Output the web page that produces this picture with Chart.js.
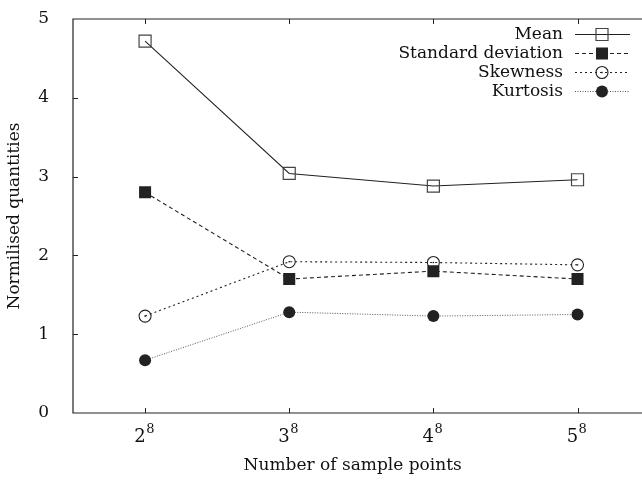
<!DOCTYPE html>
<html>
<head>
<meta charset="utf-8">
<script src="https://cdn.jsdelivr.net/npm/chart.js@4.4.1/dist/chart.umd.min.js"></script>
<style>
  html, body { margin: 0; padding: 0; background: #fff; overflow: hidden; }
</style>
</head>
<body>
<canvas id="c" width="642" height="482"></canvas>
<script>
// datos
const categories = ['2^8', '3^8', '4^8', '5^8'];
const meanValues = [4.72, 3.04, 2.88, 2.96];
const stdValues = [2.80, 1.70, 1.80, 1.70];
const skewValues = [1.23, 1.92, 1.91, 1.88];
const kurtValues = [0.67, 1.28, 1.23, 1.25];
const yTicks = [0, 1, 2, 3, 4, 5];

const FONT = '"DejaVu Serif", "Liberation Serif", serif';
const INK = '#222';

const toPoints = (vals) => vals.map((v, i) => ({ x: i, y: v }));

const datasets = [
    { label: 'Mean', data: toPoints(meanValues), borderColor: INK, borderWidth: 1.1, borderDash: [],
      pointStyle: 'rect', pointRadius: 8.5, pointBackgroundColor: 'rgba(0,0,0,0)', pointBorderColor: '#444', pointBorderWidth: 1.2 },
    { label: 'Standard deviation', data: toPoints(stdValues), borderColor: INK, borderWidth: 1.1, borderDash: [4, 3],
      pointStyle: 'rect', pointRadius: 8.5, pointBackgroundColor: INK, pointBorderColor: INK, pointBorderWidth: 0 },
    { label: 'Skewness', data: toPoints(skewValues), borderColor: INK, borderWidth: 1.1, borderDash: [2, 3],
      pointStyle: 'circle', pointRadius: 6, pointBackgroundColor: 'rgba(0,0,0,0)', pointBorderColor: INK, pointBorderWidth: 1.1, centerDot: true },
    { label: 'Kurtosis', data: toPoints(kurtValues), borderColor: '#555', borderWidth: 1, borderDash: [1, 1.5],
      pointStyle: 'circle', pointRadius: 6, pointBackgroundColor: INK, pointBorderColor: INK, pointBorderWidth: 0 },
];

// marco estilo gnuplot con marcas hacia dentro, etiquetas con exponente y leyenda a la derecha
const framePlugin = {
    id: 'frame',
    beforeDatasetsDraw(chart) {
        const { ctx, chartArea: a, scales } = chart;
        ctx.save();
        ctx.strokeStyle = INK;
        ctx.lineWidth = 1.2;
        ctx.beginPath();
        ctx.moveTo(chart.width, a.top);
        ctx.lineTo(a.left, a.top);
        ctx.lineTo(a.left, a.bottom);
        ctx.lineTo(chart.width, a.bottom);
        ctx.stroke();
        ctx.lineWidth = 1;
        ctx.beginPath();
        categories.forEach((c, i) => {
            const x = Math.round(scales.x.getPixelForValue(i)) + 0.5;
            ctx.moveTo(x, a.bottom); ctx.lineTo(x, a.bottom - 5);
            ctx.moveTo(x, a.top); ctx.lineTo(x, a.top + 5);
        });
        yTicks.slice(1, -1).forEach(v => {
            const y = Math.round(scales.y.getPixelForValue(v)) + 0.5;
            ctx.moveTo(a.left, y); ctx.lineTo(a.left + 5, y);
        });
        ctx.stroke();

        // etiquetas del eje x: base y exponente
        ctx.fillStyle = '#111';
        ctx.textBaseline = 'alphabetic';
        ctx.textAlign = 'left';
        categories.forEach((c, i) => {
            const [base, exp] = c.split('^');
            const x = scales.x.getPixelForValue(i);
            ctx.font = '18px ' + FONT;
            const wb = ctx.measureText(base).width;
            ctx.font = '13px ' + FONT;
            const we = ctx.measureText(exp).width;
            const x0 = x - (wb + we) / 2 - 1;
            ctx.font = '18px ' + FONT;
            ctx.fillText(base, x0, a.bottom + 29);
            ctx.font = '13px ' + FONT;
            ctx.fillText(exp, x0 + wb + 0.5, a.bottom + 20);
        });
        ctx.restore();
    },
    afterDatasetsDraw(chart) {
        const { ctx } = chart;
        ctx.save();
        // punto central de los círculos abiertos
        chart.data.datasets.forEach((ds, di) => {
            if (!ds.centerDot) return;
            chart.getDatasetMeta(di).data.forEach(p => {
                ctx.fillStyle = INK;
                ctx.fillRect(p.x - 0.7, p.y - 0.7, 1.4, 1.4);
            });
        });
        // leyenda
        const textRight = 563, lineL = 575, lineR = 630, mid = 602;
        ctx.font = '17px ' + FONT;
        ctx.textAlign = 'right';
        ctx.textBaseline = 'middle';
        chart.data.datasets.forEach((ds, i) => {
            const y = 34 + i * 19;
            ctx.fillStyle = '#111';
            ctx.fillText(ds.label, textRight, y + 1);
            ctx.strokeStyle = ds.borderColor;
            ctx.lineWidth = ds.borderWidth;
            ctx.setLineDash(ds.borderDash);
            ctx.beginPath();
            ctx.moveTo(lineL, y + 0.5); ctx.lineTo(lineR, y + 0.5);
            ctx.stroke();
            ctx.setLineDash([]);
            ctx.fillStyle = ds.pointBackgroundColor;
            ctx.strokeStyle = ds.pointBorderColor;
            ctx.lineWidth = ds.pointBorderWidth;
            ctx.beginPath();
            if (ds.pointStyle === 'rect') {
                const s = ds.pointRadius * Math.SQRT1_2;
                ctx.rect(mid - s, y + 0.5 - s, 2 * s, 2 * s);
            } else {
                ctx.arc(mid, y + 0.5, ds.pointRadius, 0, Math.PI * 2);
            }
            ctx.fill();
            if (ds.pointBorderWidth) ctx.stroke();
            if (ds.centerDot) { ctx.fillStyle = INK; ctx.fillRect(mid - 0.7, y - 0.2, 1.4, 1.4); }
        });
        ctx.restore();
    }
};

new Chart(document.getElementById('c'), {
    type: 'line',
    data: { datasets },
    options: {
        responsive: false,
        animation: false,
        layout: { padding: { top: 19, right: 1, left: 0, bottom: 0 } },
        plugins: { legend: { display: false }, tooltip: { enabled: false } },
        scales: {
            x: {
                type: 'linear', min: -0.5, max: 3.38,
                afterFit: (s) => { s.height = 69; s.paddingLeft = 0; s.paddingRight = 0; },
                afterBuildTicks: (s) => { s.ticks = categories.map((c, i) => ({ value: i })); },
                grid: { display: false }, border: { display: false },
                ticks: { display: false },
                title: { display: true, text: 'Number of sample points', color: '#111', font: { family: FONT, size: 17 }, padding: { top: 2, bottom: 6 } }
            },
            y: {
                min: 0, max: 5,
                afterFit: (s) => { s.width = 73; s.paddingTop = 0; s.paddingBottom = 0; },
                afterBuildTicks: (s) => { s.ticks = yTicks.map(v => ({ value: v })); },
                grid: { display: false }, border: { display: false },
                ticks: { color: '#111', font: { family: FONT, size: 17 }, padding: 16 },
                title: { display: true, text: 'Normilised quantities', color: '#111', font: { family: FONT, size: 17 }, padding: { bottom: 2 } }
            }
        }
    },
    plugins: [framePlugin]
});
</script>
</body>
</html>
